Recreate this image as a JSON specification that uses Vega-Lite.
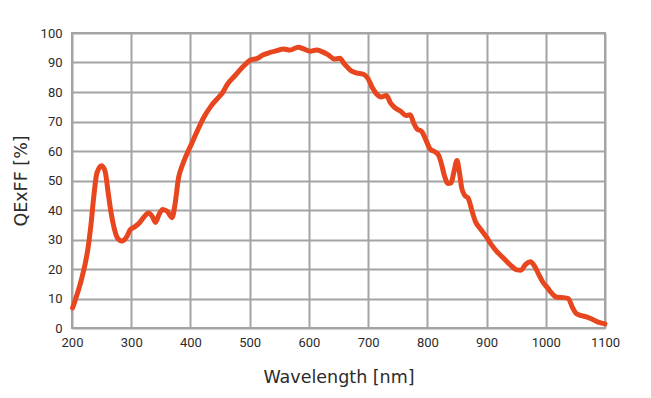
{
  "$schema": "https://vega.github.io/schema/vega-lite/v6.json",
  "width": 533,
  "height": 295,
  "autosize": {"type": "none"},
  "padding": {"left": 72, "top": 33, "right": 46, "bottom": 70},
  "background": "white",
  "config": {
    "view": {"stroke": "#a4a4a4", "strokeWidth": 2},
    "axis": {
      "gridColor": "#a4a4a4",
      "gridWidth": 2,
      "gridOpacity": 1,
      "domain": false,
      "ticks": false,
      "labelFont": "Roboto",
      "labelFontSize": 13,
      "labelColor": "#2b2b2b",
      "titleFont": "DejaVu Sans",
      "titleFontSize": 17.5,
      "titleFontWeight": "normal",
      "titleColor": "#2b2b2b"
    }
  },
  "data": {
    "values": [
      {"wl": 201, "qe": 6.8},
      {"wl": 208, "qe": 11},
      {"wl": 216, "qe": 16.5},
      {"wl": 222, "qe": 21.5},
      {"wl": 227, "qe": 27},
      {"wl": 232, "qe": 35},
      {"wl": 237, "qe": 45},
      {"wl": 242, "qe": 52.5},
      {"wl": 250, "qe": 55},
      {"wl": 256, "qe": 53},
      {"wl": 261, "qe": 46},
      {"wl": 266, "qe": 39},
      {"wl": 271, "qe": 34},
      {"wl": 277, "qe": 30.4},
      {"wl": 284, "qe": 29.5},
      {"wl": 292, "qe": 30.8},
      {"wl": 298, "qe": 33.2},
      {"wl": 306, "qe": 34.3},
      {"wl": 314, "qe": 35.7},
      {"wl": 321, "qe": 37.5},
      {"wl": 329, "qe": 39},
      {"wl": 335, "qe": 38},
      {"wl": 341, "qe": 35.8},
      {"wl": 347, "qe": 38.5},
      {"wl": 353, "qe": 40.2},
      {"wl": 361, "qe": 39.5},
      {"wl": 369, "qe": 37.4},
      {"wl": 374, "qe": 42},
      {"wl": 380, "qe": 51},
      {"wl": 386, "qe": 55},
      {"wl": 394, "qe": 59},
      {"wl": 402, "qe": 62.5},
      {"wl": 412, "qe": 67},
      {"wl": 422, "qe": 71.2},
      {"wl": 435, "qe": 75.3},
      {"wl": 448, "qe": 78.3},
      {"wl": 455, "qe": 80},
      {"wl": 462, "qe": 82.5},
      {"wl": 475, "qe": 85.5},
      {"wl": 490, "qe": 88.8},
      {"wl": 501, "qe": 90.8},
      {"wl": 512, "qe": 91.3},
      {"wl": 523, "qe": 92.6},
      {"wl": 534, "qe": 93.4},
      {"wl": 546, "qe": 94},
      {"wl": 557, "qe": 94.6},
      {"wl": 568, "qe": 94.2},
      {"wl": 582, "qe": 95.2},
      {"wl": 592, "qe": 94.5},
      {"wl": 602, "qe": 93.8},
      {"wl": 613, "qe": 94.2},
      {"wl": 622, "qe": 93.7},
      {"wl": 632, "qe": 92.7},
      {"wl": 643, "qe": 91.2},
      {"wl": 652, "qe": 91.4},
      {"wl": 660, "qe": 89.5},
      {"wl": 670, "qe": 87.4},
      {"wl": 680, "qe": 86.5},
      {"wl": 692, "qe": 86},
      {"wl": 700, "qe": 84.5},
      {"wl": 707, "qe": 81.5},
      {"wl": 714, "qe": 79.4},
      {"wl": 722, "qe": 78.3},
      {"wl": 731, "qe": 78.8},
      {"wl": 738, "qe": 76.2},
      {"wl": 745, "qe": 74.7},
      {"wl": 755, "qe": 73.5},
      {"wl": 764, "qe": 72},
      {"wl": 771, "qe": 72.3},
      {"wl": 777, "qe": 69.5},
      {"wl": 782, "qe": 67.6},
      {"wl": 791, "qe": 66.5},
      {"wl": 798, "qe": 63.5},
      {"wl": 805, "qe": 60.6},
      {"wl": 813, "qe": 59.7},
      {"wl": 819, "qe": 58.6},
      {"wl": 824, "qe": 55.5},
      {"wl": 829, "qe": 51.5},
      {"wl": 835, "qe": 49},
      {"wl": 840, "qe": 49.2},
      {"wl": 845, "qe": 53},
      {"wl": 850, "qe": 56.8},
      {"wl": 854, "qe": 53},
      {"wl": 858, "qe": 47.5},
      {"wl": 863, "qe": 45},
      {"wl": 869, "qe": 44},
      {"wl": 875, "qe": 40},
      {"wl": 881, "qe": 36.2},
      {"wl": 890, "qe": 33.5},
      {"wl": 900, "qe": 30.8},
      {"wl": 909, "qe": 28},
      {"wl": 917, "qe": 26},
      {"wl": 928, "qe": 23.8},
      {"wl": 940, "qe": 21.4},
      {"wl": 950, "qe": 19.8},
      {"wl": 958, "qe": 19.6},
      {"wl": 966, "qe": 21.6},
      {"wl": 974, "qe": 22.5},
      {"wl": 981, "qe": 21},
      {"wl": 988, "qe": 18.2},
      {"wl": 995, "qe": 15.6},
      {"wl": 1003, "qe": 13.6},
      {"wl": 1011, "qe": 11.6},
      {"wl": 1019, "qe": 10.4},
      {"wl": 1030, "qe": 10.3},
      {"wl": 1038, "qe": 10},
      {"wl": 1045, "qe": 7},
      {"wl": 1052, "qe": 4.8},
      {"wl": 1060, "qe": 4.2},
      {"wl": 1070, "qe": 3.7},
      {"wl": 1080, "qe": 2.8},
      {"wl": 1090, "qe": 1.9},
      {"wl": 1100, "qe": 1.4}
    ]
  },
  "mark": {
    "type": "line",
    "color": "#e8461f",
    "strokeWidth": 5,
    "interpolate": "monotone",
    "strokeCap": "round",
    "strokeJoin": "round"
  },
  "encoding": {
    "x": {
      "field": "wl",
      "type": "quantitative",
      "scale": {"domain": [200, 1100], "nice": false, "zero": false},
      "axis": {
        "title": "Wavelength [nm]",
        "values": [200, 300, 400, 500, 600, 700, 800, 900, 1000, 1100],
        "labelPadding": 8,
        "titlePadding": 19,
        "format": "d",
        "labelFlush": false
      }
    },
    "y": {
      "field": "qe",
      "type": "quantitative",
      "scale": {"domain": [0, 100], "nice": false},
      "axis": {
        "title": "QExFF [%]",
        "values": [0, 10, 20, 30, 40, 50, 60, 70, 80, 90, 100],
        "labelPadding": 10,
        "titlePadding": 10,
        "labelFlush": false
      }
    }
  }
}
